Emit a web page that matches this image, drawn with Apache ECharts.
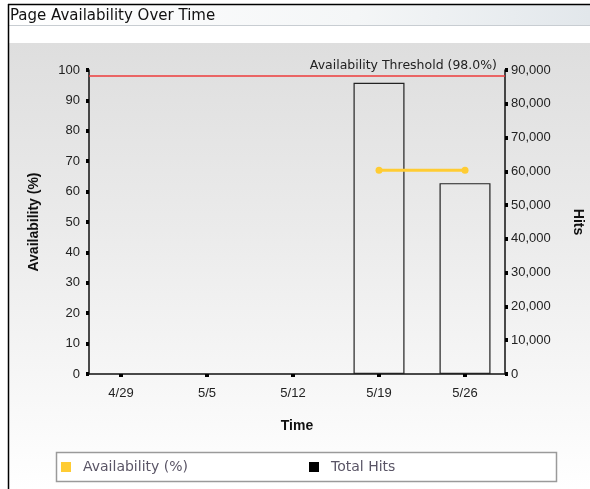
<!DOCTYPE html>
<html>
<head>
<meta charset="utf-8">
<script src="https://cdn.jsdelivr.net/npm/echarts@6/dist/echarts.min.js"></script>
<style>
  html, body { margin: 0; padding: 0; background: #fff; }
  #chart { width: 590px; height: 489px; }
</style>
</head>
<body>
<div id="chart"></div>
<script>
// data
var weeks = ['4/29', '5/5', '5/12', '5/19', '5/26']
var availability = [null, null, null, 67, 67] // %
var totalHits = [null, null, null, 86200, 56500]
var threshold = 98.0

var availPoints = availability.map(function (v, i) { return [i, v == null ? '-' : v] })
var hitPoints = []
totalHits.forEach(function (v, i) { if (v != null) hitPoints.push([i, v]) })
var tickIdx = weeks.map(function (w, i) { return i })

var chart = echarts.init(document.getElementById('chart'))
var axisFont = { fontFamily: 'Liberation Sans', fontSize: 13, color: '#222' }
var nameFont = { fontFamily: 'Liberation Sans', fontSize: 14, fontWeight: 'bold', color: '#111' }

var option = {
  animation: false,
  graphic: [
    // title bar
    { type: 'rect', z: -10, shape: { x: 8, y: 4, width: 582, height: 22 },
      style: { fill: new echarts.graphic.LinearGradient(0, 0, 1, 0, [
        { offset: 0, color: '#ffffff' }, { offset: 0.6, color: '#f4f6f7' }, { offset: 1, color: '#e2e7eb' }]) } },
    { type: 'line', z: -9, shape: { x1: 8, y1: 25.5, x2: 590, y2: 25.5 }, style: { stroke: '#c8cdd2', lineWidth: 1 } },
    // plot background
    { type: 'rect', z: -10, shape: { x: 9, y: 43, width: 581, height: 446 },
      style: { fill: new echarts.graphic.LinearGradient(0, 0, 0, 1, [
        { offset: 0, color: '#dedede' }, { offset: 0.45, color: '#ececec' }, { offset: 1, color: '#ffffff' }]) } },
    // outer border
    { type: 'line', z: 5, shape: { x1: 8, y1: 4.5, x2: 590, y2: 4.5 }, style: { stroke: '#000', lineWidth: 1.5 } },
    { type: 'line', z: 5, shape: { x1: 8.5, y1: 4, x2: 8.5, y2: 489 }, style: { stroke: '#000', lineWidth: 1.5 } },
    // legend frame
    { type: 'rect', z: -5, shape: { x: 56.5, y: 452.5, width: 500, height: 29 },
      style: { fill: '#fff', stroke: '#9a9a9a', lineWidth: 1.5 } }
  ],
  title: {
    text: 'Page Availability Over Time',
    left: 8, top: 9, padding: [0, 2],
    textStyle: { fontFamily: 'DejaVu Sans', fontSize: 15, fontWeight: 'normal', color: '#111' }
  },
  legend: {
    left: 61, top: 460, padding: 0,
    itemWidth: 10, itemHeight: 10, itemGap: 121,
    icon: 'rect',
    textStyle: { fontFamily: 'DejaVu Sans', fontSize: 14, color: '#5a5566', padding: [0, 0, 0, 7] },
    data: [
      { name: 'Availability (%)', itemStyle: { color: '#ffcc33', borderWidth: 0 } },
      { name: 'Total Hits', itemStyle: { color: '#000', borderWidth: 0 } }
    ]
  },
  grid: { left: 89, right: 85, top: 70, bottom: 115, outerBoundsMode: 'none', containLabel: false },
  xAxis: {
    type: 'value',
    min: -0.372, max: 4.465,
    name: 'Time', nameLocation: 'middle', nameGap: 45, nameTextStyle: nameFont,
    splitLine: { show: false },
    axisLine: { show: true, lineStyle: { color: '#111', width: 1.5 } },
    axisTick: { show: true, customValues: tickIdx, length: 3, lineStyle: { color: '#000', width: 4 } },
    axisLabel: { customValues: tickIdx, margin: 13, formatter: function (v) { return weeks[Math.round(v)] }, ...axisFont }
  },
  yAxis: [
    {
      type: 'value', min: 0, max: 100, interval: 10,
      name: 'Availability (%)', nameLocation: 'middle', nameGap: 48, nameTextStyle: nameFont,
      splitLine: { show: false },
      axisLine: { show: true, onZero: false, lineStyle: { color: '#111', width: 1.5 } },
      axisTick: { show: true, length: 3, lineStyle: { color: '#000', width: 4 } },
      axisLabel: { margin: 9, ...axisFont }
    },
    {
      type: 'value', min: 0, max: 90000, interval: 10000, position: 'right',
      name: 'Hits', nameLocation: 'middle', nameGap: 66, nameRotate: -90, nameTextStyle: nameFont,
      splitLine: { show: false },
      axisLine: { show: true, onZero: false, lineStyle: { color: '#111', width: 1.5 } },
      axisTick: { show: true, length: 3, lineStyle: { color: '#000', width: 4 } },
      axisLabel: { margin: 6, formatter: function (v) { return v.toLocaleString('en-US') }, ...axisFont }
    }
  ],
  series: [
    {
      name: 'Total Hits', type: 'bar', yAxisIndex: 1,
      barWidth: 51,
      data: hitPoints,
      itemStyle: { color: 'rgba(0,0,0,0)', borderColor: '#222', borderWidth: 1.2 }
    },
    {
      name: 'Availability (%)', type: 'line', yAxisIndex: 0,
      data: availPoints,
      symbol: 'circle', symbolSize: 7,
      lineStyle: { color: '#ffcc33', width: 3 },
      itemStyle: { color: '#ffcc33' },
      markLine: {
        silent: true, symbol: 'none',
        lineStyle: { color: '#ee3b3b', width: 1.5, type: 'solid' },
        label: { position: 'insideEndTop', distance: [8, 4], formatter: 'Availability Threshold (98.0%)',
          fontFamily: 'DejaVu Sans', fontSize: 12.5, color: '#222' },
        data: [{ yAxis: threshold }]
      }
    }
  ]
}
chart.setOption(option)
</script>
</body>
</html>
